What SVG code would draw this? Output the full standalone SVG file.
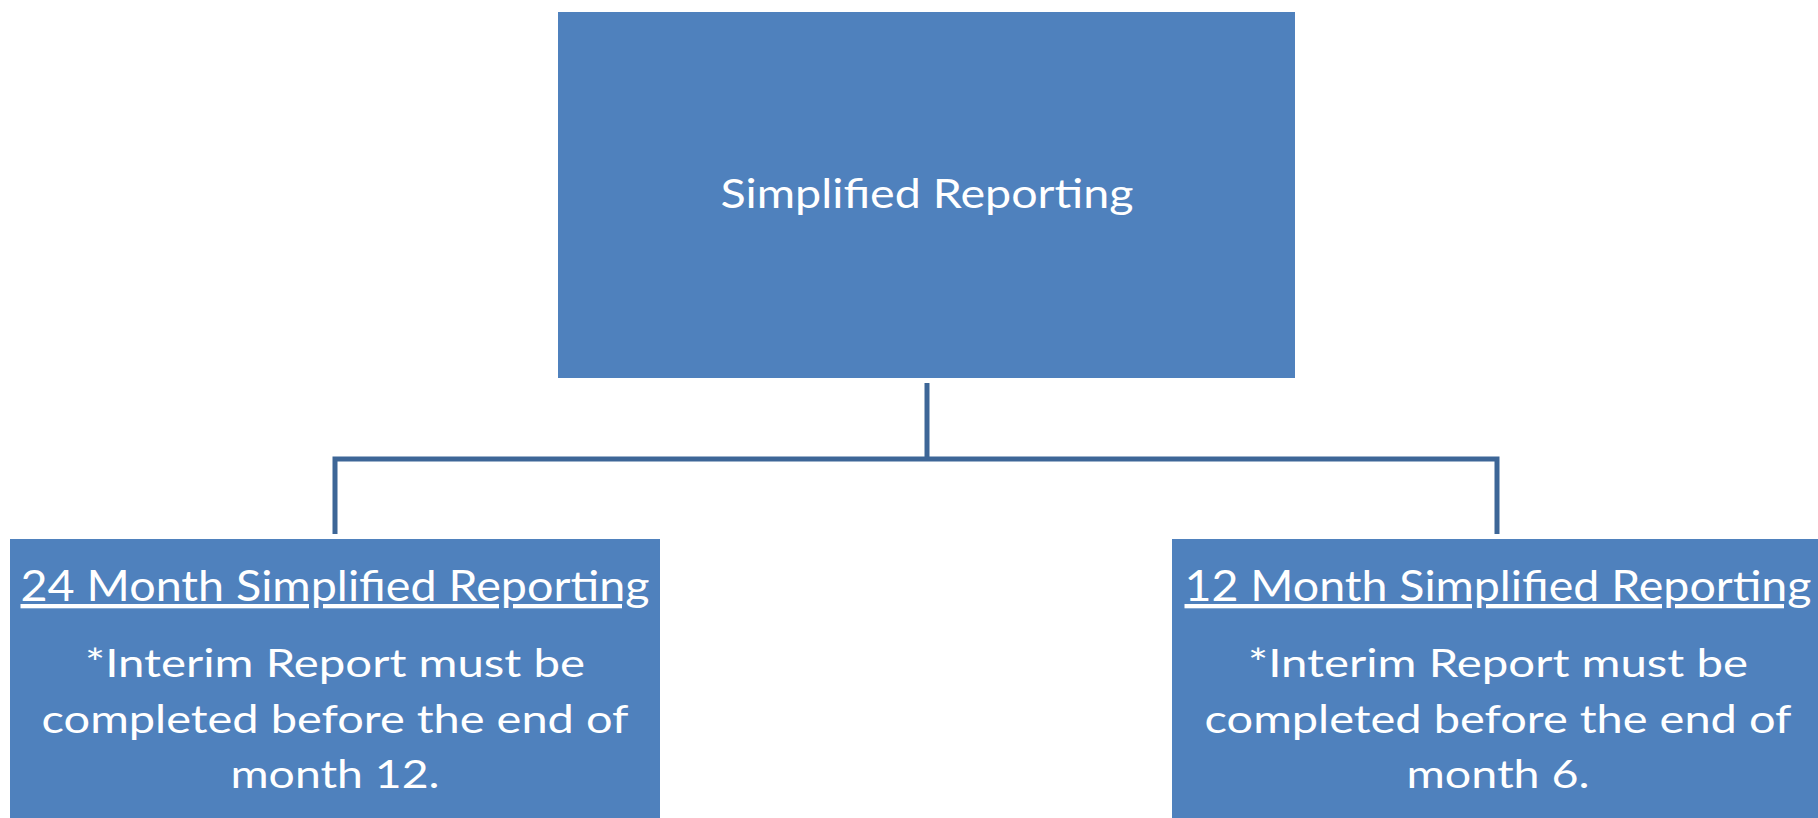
<svg xmlns="http://www.w3.org/2000/svg" width="1818" height="818" viewBox="0 0 1818 818">
<style>
.box{fill:#4F81BD;}
.t{font-family:Lato,"Open Sans","Liberation Sans",sans-serif;fill:#FFFFFF;text-anchor:middle;}
.h{font-size:43px;text-decoration:underline;}
.b{font-size:39px;}
.conn{fill:none;stroke:#3D6697;stroke-width:5;stroke-linejoin:miter;}
</style>
<rect width="1818" height="818" fill="#FFFFFF"/>
<g id="connectors">
<path class="conn" d="M927 383 V459"/>
<path class="conn" d="M335 534 V459 H1497 V534"/>
</g>
<g id="node-top">
<rect class="box" x="558" y="12" width="737" height="366"/>
<text class="t" x="927" y="208" font-size="41" textLength="413" lengthAdjust="spacingAndGlyphs">Simplified Reporting</text>
</g>
<g id="node-left">
<rect class="box" x="10" y="539" width="650" height="279"/>
<text class="t h" x="335" y="601" textLength="629" lengthAdjust="spacingAndGlyphs">24 Month Simplified Reporting</text>
<text class="t b" x="335" y="677" textLength="500" lengthAdjust="spacingAndGlyphs">*Interim Report must be</text>
<text class="t b" x="335" y="733" textLength="587" lengthAdjust="spacingAndGlyphs">completed before the end of</text>
<text class="t b" x="335" y="788" textLength="209" lengthAdjust="spacingAndGlyphs">month 12.</text>
</g>
<g id="node-right">
<rect class="box" x="1172" y="539" width="646" height="279"/>
<text class="t h" x="1498" y="601" textLength="627" lengthAdjust="spacingAndGlyphs">12 Month Simplified Reporting</text>
<text class="t b" x="1498" y="677" textLength="500" lengthAdjust="spacingAndGlyphs">*Interim Report must be</text>
<text class="t b" x="1498" y="733" textLength="587" lengthAdjust="spacingAndGlyphs">completed before the end of</text>
<text class="t b" x="1498" y="788" textLength="183" lengthAdjust="spacingAndGlyphs">month 6.</text>
</g>
</svg>
